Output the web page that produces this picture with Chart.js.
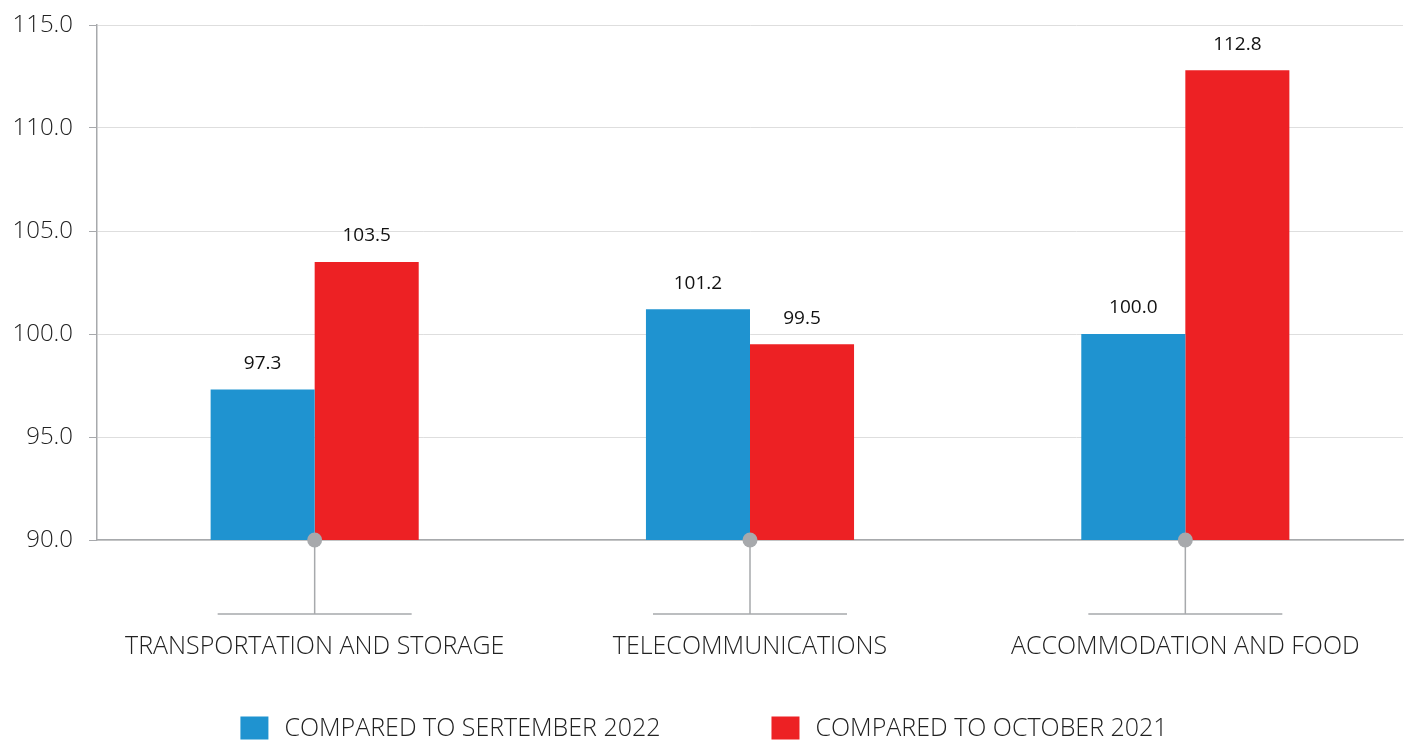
<!DOCTYPE html>
<html>
<head>
<meta charset="utf-8">
<script src="https://cdn.jsdelivr.net/npm/chart.js@4.4.1/dist/chart.umd.min.js"></script>
<style>
  html, body { margin: 0; padding: 0; background: #fff; }
  #wrap { width: 1408px; height: 740px; position: relative; }
</style>
</head>
<body>
<div id="wrap"><canvas id="bar_chart"></canvas></div>
<script>
// data
const categories   = ['TRANSPORTATION AND STORAGE', 'TELECOMMUNICATIONS', 'ACCOMMODATION AND FOOD'];
const seriesNames  = ['COMPARED TO SERTEMBER 2022', 'COMPARED TO OCTOBER 2021'];
const vsSep2022    = [97.3, 101.2, 100.0];
const vsOct2021    = [103.5, 99.5, 112.8];
const yTickValues  = [90, 95, 100, 105, 110, 115];

const BLUE  = '#1f93d0';
const RED   = '#ed2124';
const GREY  = '#a7a9ac';
const FONT  = "'Open Sans', 'Noto Sans', sans-serif";

// value labels above each bar
const valueLabels = {
    id: 'valueLabels',
    afterDatasetsDraw(chart){
        const ctx = chart.ctx;
        ctx.save();
        ctx.font = '400 19px ' + FONT;
        ctx.fillStyle = '#111';
        ctx.textAlign = 'center';
        ctx.textBaseline = 'middle';
        chart.data.datasets.forEach((ds, i) => {
            chart.getDatasetMeta(i).data.forEach((bar, j) => {
                ctx.fillText(ds.data[j].toFixed(1), bar.x, bar.y - 26);
            });
        });
        ctx.restore();
    }
};

// grey pin + bracket under each category
const categoryPins = {
    id: 'categoryPins',
    afterDatasetsDraw(chart){
        const ctx = chart.ctx;
        const x = chart.scales.x;
        const base = chart.chartArea.bottom;
        ctx.save();
        ctx.strokeStyle = GREY;
        ctx.fillStyle = GREY;
        ctx.lineWidth = 1.5;
        categories.forEach((c, i) => {
            const cx = x.getPixelForValue(i);
            ctx.beginPath();
            ctx.moveTo(cx, base);
            ctx.lineTo(cx, base + 74);
            ctx.moveTo(cx - 97, base + 74);
            ctx.lineTo(cx + 97, base + 74);
            ctx.stroke();
            ctx.beginPath();
            ctx.arc(cx, base, 7.5, 0, Math.PI * 2);
            ctx.fill();
        });
        ctx.restore();
    }
};

// legend drawn at the bottom
const bottomLegend = {
    id: 'bottomLegend',
    afterDraw(chart){
        const ctx = chart.ctx;
        const boxW = 28, boxH = 23, gap = 16, itemGap = 111;
        const y = 728;
        ctx.save();
        ctx.font = '300 25px ' + FONT;
        const widths = chart.data.datasets.map(ds => boxW + gap + ctx.measureText(ds.label).width);
        const total = widths.reduce((a, b) => a + b, 0) + itemGap * (widths.length - 1);
        let x = chart.width / 2 - total / 2;
        chart.data.datasets.forEach((ds, i) => {
            ctx.fillStyle = ds.backgroundColor;
            ctx.fillRect(x, y - boxH / 2, boxW, boxH);
            ctx.fillStyle = '#222';
            ctx.textAlign = 'left';
            ctx.textBaseline = 'middle';
            ctx.fillText(ds.label, x + boxW + gap, y + 1);
            x += widths[i] + itemGap;
        });
        ctx.restore();
    }
};

const bar_chart = document.getElementById('bar_chart');
var bar_chart_ref = new Chart(bar_chart, {
    type: 'bar',
    data: {
        labels: categories,
        datasets: [{
            label: seriesNames[0],
            data: vsSep2022,
            backgroundColor: BLUE
        }, {
            label: seriesNames[1],
            data: vsOct2021,
            backgroundColor: RED
        }]
    },
    options: {
        responsive: true,
        maintainAspectRatio: false,
        animation: false,
        layout: { padding: { left: 10, right: 5, top: 25, bottom: 85 } },
        datasets: { bar: { categoryPercentage: 0.478, barPercentage: 1.0 } },
        plugins: {
            legend: { display: false },
            tooltip: { enabled: false }
        },
        scales: {
            x: {
                grid: { display: false, drawTicks: false },
                border: { display: true, color: GREY, width: 1.5 },
                ticks: {
                    padding: 92,
                    color: '#222',
                    font: { family: FONT, size: 25, weight: '300' }
                },
                afterFit: (scale) => {
                    scale.height = 115;
                    scale.paddingLeft = 0;
                    scale.paddingRight = 0;
                }
            },
            y: {
                min: 90,
                max: 115,
                afterBuildTicks: (scale) => { scale.ticks = yTickValues.map(v => ({ value: v })); },
                grid: { color: '#dedede', tickColor: GREY, tickLength: 8 },
                border: { display: true, color: GREY, width: 1.5 },
                ticks: {
                    padding: 16,
                    color: '#222',
                    font: { family: FONT, size: 24, weight: '300' },
                    callback: (v) => Number(v).toFixed(1)
                },
                afterFit: (scale) => {
                    scale.width = 87;
                    scale.paddingTop = 0;
                    scale.paddingBottom = 0;
                }
            }
        }
    },
    plugins: [valueLabels, categoryPins, bottomLegend]
});
</script>
</body>
</html>
